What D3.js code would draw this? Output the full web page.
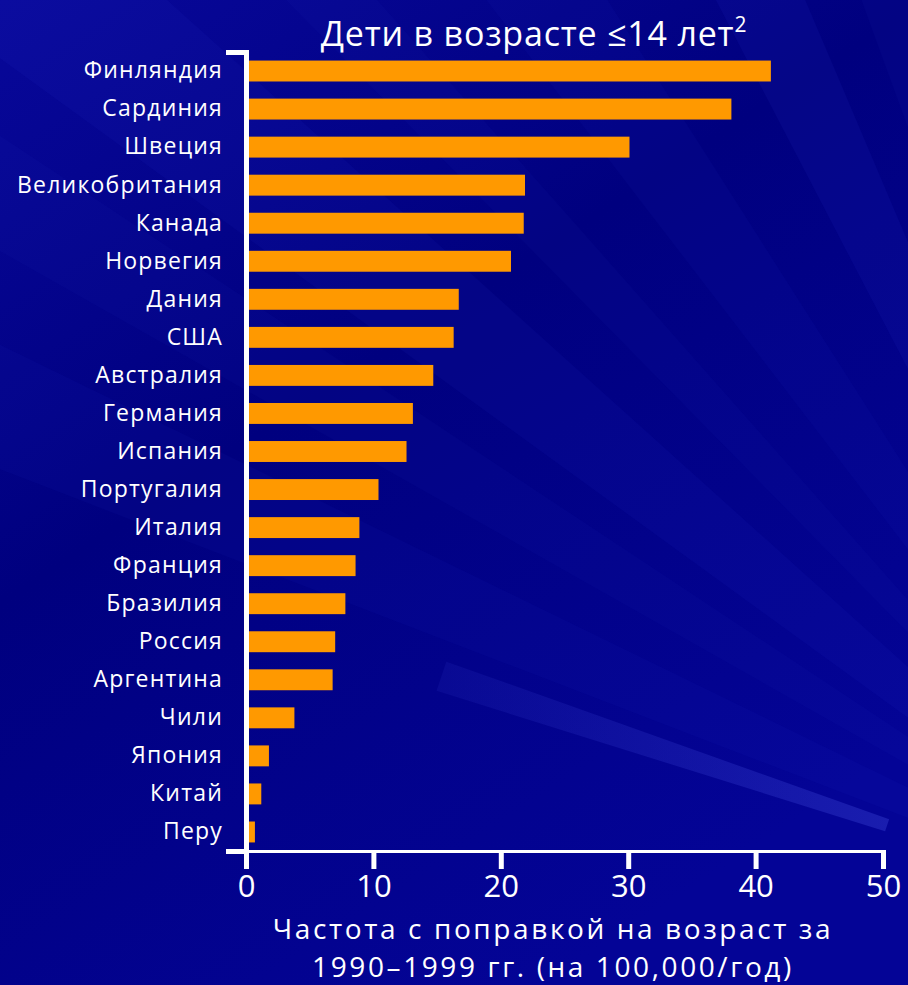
<!DOCTYPE html>
<html lang="ru">
<head>
<meta charset="utf-8">
<script src="https://cdn.jsdelivr.net/npm/d3@7"></script>
<style>
  html, body { margin: 0; padding: 0; background: #000080; }
  svg { display: block; }
  text { font-family: "Open Sans", "Noto Sans", sans-serif; fill: #ffffff; }
</style>
</head>
<body>
<svg id="chart" width="908" height="985"></svg>
<script>
// Incidence by country, children aged 14 and under
const countries = [
  "Финляндия", "Сардиния", "Швеция", "Великобритания", "Канада", "Норвегия",
  "Дания", "США", "Австралия", "Германия", "Испания", "Португалия", "Италия",
  "Франция", "Бразилия", "Россия", "Аргентина", "Чили", "Япония", "Китай", "Перу"
];
const incidence = [
  41.2, 38.1, 30.1, 21.9, 21.8, 20.8,
  16.7, 16.3, 14.7, 13.1, 12.6, 10.4, 8.9,
  8.6, 7.8, 7.0, 6.8, 3.8, 1.8, 1.2, 0.7
];
const xTicks = [0, 10, 20, 30, 40, 50];
const titleText = "Дети в возрасте ≤14 лет";
const titleSup = "2";
const xTitleLines = ["Частота с поправкой на возраст за", "1990–1999 гг. (на 100,000/год)"];

const W = 908, H = 985;
const svg = d3.select("#chart");

// ---- background: navy with soft light rays ----
const defs = svg.append("defs");
const bg = defs.append("linearGradient").attr("id", "bg")
  .attr("x1", 0).attr("y1", 0).attr("x2", 0.6).attr("y2", 1);
bg.append("stop").attr("offset", 0).attr("stop-color", "#08089a");
bg.append("stop").attr("offset", 0.45).attr("stop-color", "#00007f");
bg.append("stop").attr("offset", 1).attr("stop-color", "#040496");
svg.append("rect").attr("width", W).attr("height", H).attr("fill", "url(#bg)");

const rayGrad = defs.append("linearGradient").attr("id", "ray")
  .attr("gradientUnits", "userSpaceOnUse")
  .attr("x1", 440).attr("y1", 0).attr("x2", 908).attr("y2", 0);
rayGrad.append("stop").attr("offset", 0).attr("stop-color", "#3b44d8").attr("stop-opacity", 0.12);
rayGrad.append("stop").attr("offset", 1).attr("stop-color", "#4a55e6").attr("stop-opacity", 0.32);

const focus = [1200, 930];
const rays = [
  { a0: 201.0, a1: 206.0, op: 0.06 },
  { a0: 209.5, a1: 213.5, op: 0.05 },
  { a0: 216.0, a1: 222.0, op: 0.07 },
  { a0: 225.5, a1: 228.5, op: 0.05 },
  { a0: 232.5, a1: 237.5, op: 0.06 },
  { a0: 242.5, a1: 247.0, op: 0.09 },
  { a0: 250.0, a1: 256.0, op: 0.05 }
];
const rad = d => d * Math.PI / 180;
const rayPath = (a0, a1, r0, r1) => {
  const p = (a, r) => [focus[0] + r * Math.cos(rad(a)), focus[1] + r * Math.sin(rad(a))];
  const pts = [p(a0, r0), p(a0, r1), p(a1, r1), p(a1, r0)];
  return "M" + pts.map(q => q.join(",")).join("L") + "Z";
};
svg.append("g").selectAll("path").data(rays).join("path")
  .attr("d", d => rayPath(d.a0, d.a1, 0, 2000))
  .attr("fill", "#3a46e0").attr("fill-opacity", d => d.op);
// brighter streak near the lower right
svg.append("path")
  .attr("d", rayPath(197.4, 199.6, 330, 800))
  .attr("fill", "url(#ray)");

// ---- scales ----
const margin = { left: 246, right: 883, top: 52, bottom: 851 };
const x = d3.scaleLinear().domain([0, 50]).range([margin.left, margin.right]);
const y = d3.scaleBand().domain(countries).range([margin.top, margin.bottom])
  .paddingInner(0.45).paddingOuter(0.225);

// ---- bars ----
svg.append("g").selectAll("rect").data(countries).join("rect")
  .attr("x", x(0))
  .attr("y", d => y(d))
  .attr("width", (d, i) => x(incidence[i]) - x(0))
  .attr("height", y.bandwidth())
  .attr("fill", "#ff9900");

// ---- y axis ----
const yAxis = svg.append("g")
  .attr("transform", `translate(${x(0)},0)`)
  .call(d3.axisLeft(y).tickSizeInner(0).tickSizeOuter(20).tickPadding(23));
yAxis.select(".domain").attr("stroke", "#ffffff").attr("stroke-width", 5);
yAxis.selectAll(".tick line").remove();
yAxis.selectAll(".tick text")
  .attr("font-size", 23).attr("fill", "#ffffff")
  .attr("font-family", "'Open Sans', 'Noto Sans', sans-serif")
  .attr("letter-spacing", 1.2);

// ---- x axis ----
const xAxis = svg.append("g")
  .attr("transform", `translate(0,${margin.bottom})`)
  .call(d3.axisBottom(x).tickValues(xTicks).tickFormat(d3.format("d"))
    .tickSizeInner(18).tickSizeOuter(0).tickPadding(6));
xAxis.select(".domain").attr("stroke", "#ffffff").attr("stroke-width", 3);
xAxis.selectAll(".tick line").attr("stroke", "#ffffff").attr("stroke-width", 5)
  .attr("y1", -1);
xAxis.selectAll(".tick text")
  .attr("font-size", 31).attr("fill", "#ffffff")
  .attr("font-family", "'Open Sans', 'Noto Sans', sans-serif");

// ---- titles ----
const title = svg.append("text")
  .attr("x", 534).attr("y", 46)
  .attr("text-anchor", "middle")
  .attr("font-size", 34)
  .attr("letter-spacing", 0.8);
title.append("tspan").text(titleText);
title.append("tspan").attr("font-size", 21).attr("dy", -14).text(titleSup);

svg.append("g").selectAll("text").data(xTitleLines).join("text")
  .attr("x", 553)
  .attr("y", (d, i) => 939 + i * 38)
  .attr("text-anchor", "middle")
  .attr("font-size", 28)
  .attr("letter-spacing", 2.6)
  .text(d => d);
</script>
</body>
</html>
